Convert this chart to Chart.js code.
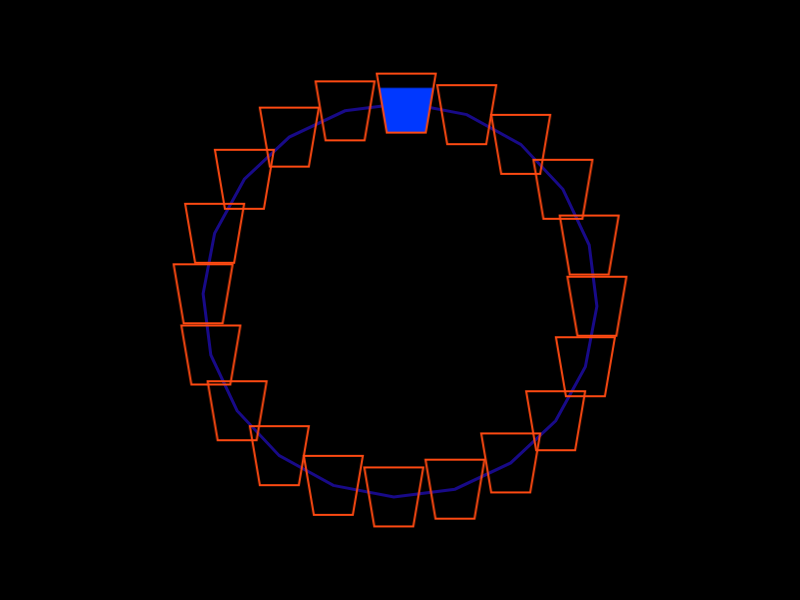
<!DOCTYPE html>
<html>
<head>
<meta charset="utf-8">
<script src="https://cdn.jsdelivr.net/npm/chart.js@4"></script>
<style>
  html, body { margin: 0; padding: 0; background: #000; }
  #wrap { width: 800px; height: 600px; }
</style>
</head>
<body>
<div id="wrap"><canvas id="radarChart" width="800" height="600"></canvas></div>
<script>
// 20 spokes, every value at the top of the scale
var labels = ['1', '2', '3', '4', '5', '6', '7', '8', '9', '10',
              '11', '12', '13', '14', '15', '16', '17', '18', '19', '20'];
var values = [100, 100, 100, 100, 100, 100, 100, 100, 100, 100,
              100, 100, 100, 100, 100, 100, 100, 100, 100, 100];
// how full each cup marker is (0..1)
var fillLevels = [0.76, 0, 0, 0, 0, 0, 0, 0, 0, 0,
                  0, 0, 0, 0, 0, 0, 0, 0, 0, 0];

var lineColor = '#180a88';
var cupColor = '#ff4a12';
var cupFill = '#0038ff';

// build a cup shaped marker as a small canvas
function makeCup(level) {
    var w = 63, h = 63;
    var c = document.createElement('canvas');
    c.width = w;
    c.height = h;
    var g = c.getContext('2d');
    var top = 2, bottom = 61;
    var tl = 2, tr = 61, bl = 12, br = 51;

    if (level > 0) {
        var fy = bottom - (bottom - top) * level;
        var t = (fy - top) / (bottom - top);
        g.fillStyle = cupFill;
        g.beginPath();
        g.moveTo(tl + (bl - tl) * t, fy);
        g.lineTo(tr + (br - tr) * t, fy);
        g.lineTo(br, bottom);
        g.lineTo(bl, bottom);
        g.closePath();
        g.fill();
    }

    g.strokeStyle = cupColor;
    g.lineWidth = 2;
    g.beginPath();
    g.moveTo(tl, top);
    g.lineTo(tr, top);
    g.lineTo(br, bottom);
    g.lineTo(bl, bottom);
    g.closePath();
    g.stroke();
    return c;
}

var cups = fillLevels.map(function (lv) { return makeCup(lv); });

new Chart(document.getElementById('radarChart').getContext('2d'), {
    type: 'radar',
    data: {
        labels: labels,
        datasets: [{
            data: values,
            borderColor: lineColor,
            borderWidth: 3,
            backgroundColor: 'rgba(0,0,0,0)',
            fill: false,
            pointStyle: cups,
            pointRadius: 30,
            pointHoverRadius: 30
        }]
    },
    options: {
        responsive: false,
        animation: false,
        layout: { padding: { top: 103, bottom: 103 } },
        plugins: {
            legend: { display: false },
            tooltip: { enabled: false }
        },
        scales: {
            r: {
                display: false,
                min: 0,
                max: 100,
                startAngle: 1.8,
                pointLabels: { display: false },
                ticks: { display: false }
            }
        }
    }
});
</script>
</body>
</html>
